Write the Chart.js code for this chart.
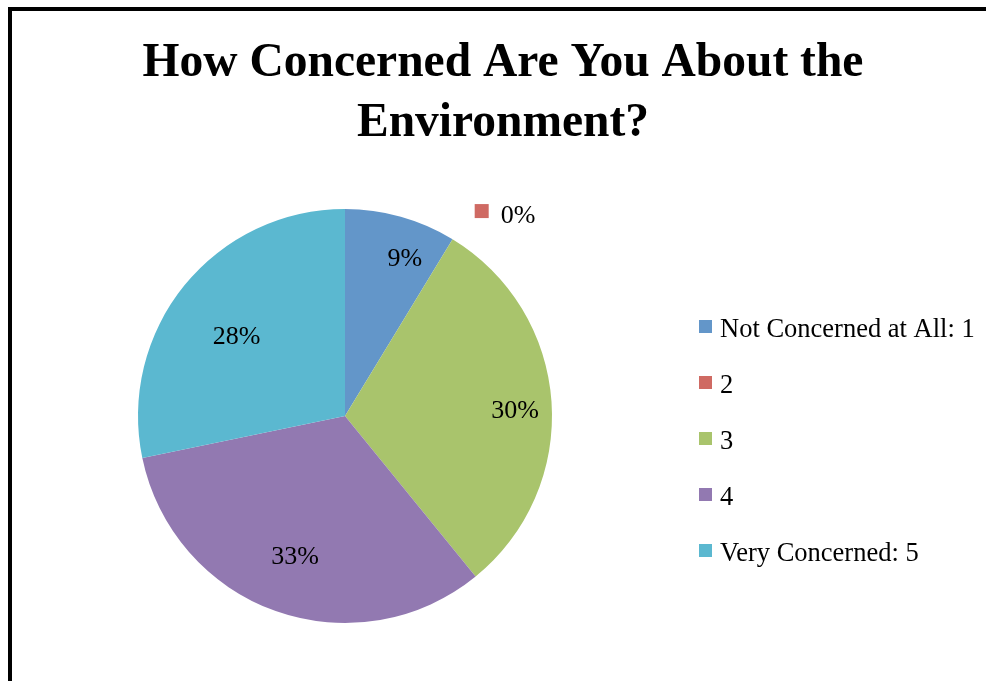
<!DOCTYPE html>
<html>
<head>
<meta charset="utf-8">
<script src="https://cdn.jsdelivr.net/npm/chart.js@4/dist/chart.umd.min.js"></script>
<style>
  html, body { margin: 0; padding: 0; background: #fff; overflow: hidden; }
  #frame { position: absolute; left: 8px; top: 7px; width: 1000px; height: 700px; border: 4px solid #000; }
  #wrap { position: absolute; left: 0; top: 0; width: 986px; height: 681px; }
</style>
</head>
<body>
<div id="frame"></div>
<div id="wrap"><canvas id="grafico"></canvas></div>
<script>
const categorias = ['Not Concerned at All: 1', '2', '3', '4', 'Very Concerned: 5']
const respostas = [4, 0, 14, 15, 13]
const cores = ['#6396c9', '#cf6a63', '#a9c46c', '#9279b1', '#5bb8d0']
const titulo = ['How Concerned Are You About the', 'Environment?']

const fonte = "'Liberation Serif', 'Times New Roman', serif"

// label placement per slice: distance from centre (fraction of radius) and a small angle nudge (degrees)
const distRotulo = [0.82, 1.19, 0.822, 0.714, 0.654]
const ajusteAngulo = [5, 2.4, 1.7, 0.2, -2.4]

const rotulos = {
    id: 'rotulos',
    afterDatasetsDraw(chart) {
        const ctx = chart.ctx
        const meta = chart.getDatasetMeta(0)
        const total = respostas.reduce((a, b) => a + b, 0)
        ctx.save()
        ctx.font = '26px ' + fonte
        ctx.fillStyle = '#000'
        ctx.textBaseline = 'middle'
        meta.data.forEach((arc, i) => {
            const p = arc.getProps(['x', 'y', 'startAngle', 'endAngle', 'outerRadius'], true)
            const ang = (p.startAngle + p.endAngle) / 2 + ajusteAngulo[i] * Math.PI / 180
            const r = p.outerRadius * distRotulo[i]
            const x = p.x + Math.cos(ang) * r
            const y = p.y + Math.sin(ang) * r
            const txt = Math.round(respostas[i] / total * 100) + '%'
            if (respostas[i] == 0) {
                // outside label with its legend key
                ctx.fillStyle = cores[i]
                ctx.fillRect(x - 7, y - 7, 14, 14)
                ctx.fillStyle = '#000'
                ctx.textAlign = 'left'
                ctx.fillText(txt, x + 19, y + 5)
            } else {
                ctx.textAlign = 'center'
                ctx.fillText(txt, x, y + 2)
            }
        })
        ctx.restore()
    }
}

// legend as a layout box on the right, so the title can still span the full width
const caixaLegenda = {
    id: 'caixaLegenda',
    beforeInit(chart) {
        const caixa = {
            position: 'right',
            weight: 1000,
            fullSize: false,
            options: {},
            isHorizontal() { return false },
            update(maxWidth, maxHeight) {
                this.width = 316
                this.height = maxHeight
            },
            draw() {
                const ctx = chart.ctx
                ctx.save()
                ctx.font = '26.5px ' + fonte
                ctx.textBaseline = 'middle'
                ctx.textAlign = 'left'
                categorias.forEach((c, i) => {
                    const y = this.top + 121 + i * 56
                    ctx.fillStyle = cores[i]
                    ctx.fillRect(this.left + 29, y - 10, 13, 13)
                    ctx.fillStyle = '#000'
                    ctx.fillText(c, this.left + 50, y)
                })
                ctx.restore()
            }
        }
        Chart.layouts.addBox(chart, caixa)
    }
}

new Chart(document.getElementById('grafico'), {
    type: 'pie',
    data: {
        labels: categorias,
        datasets: [{
            data: respostas,
            backgroundColor: cores,
            borderWidth: 0,
            hoverOffset: 0
        }]
    },
    options: {
        responsive: true,
        maintainAspectRatio: false,
        animation: false,
        layout: {
            padding: { left: 20, right: 0, top: 0, bottom: 58 }
        },
        plugins: {
            legend: { display: false },
            tooltip: { enabled: false },
            title: {
                display: true,
                text: titulo,
                color: '#000',
                font: { family: fonte, size: 47.5, weight: 'bold', lineHeight: '60px' },
                padding: { top: 34, bottom: 55 }
            }
        }
    },
    plugins: [rotulos, caixaLegenda]
})
</script>
</body>
</html>
